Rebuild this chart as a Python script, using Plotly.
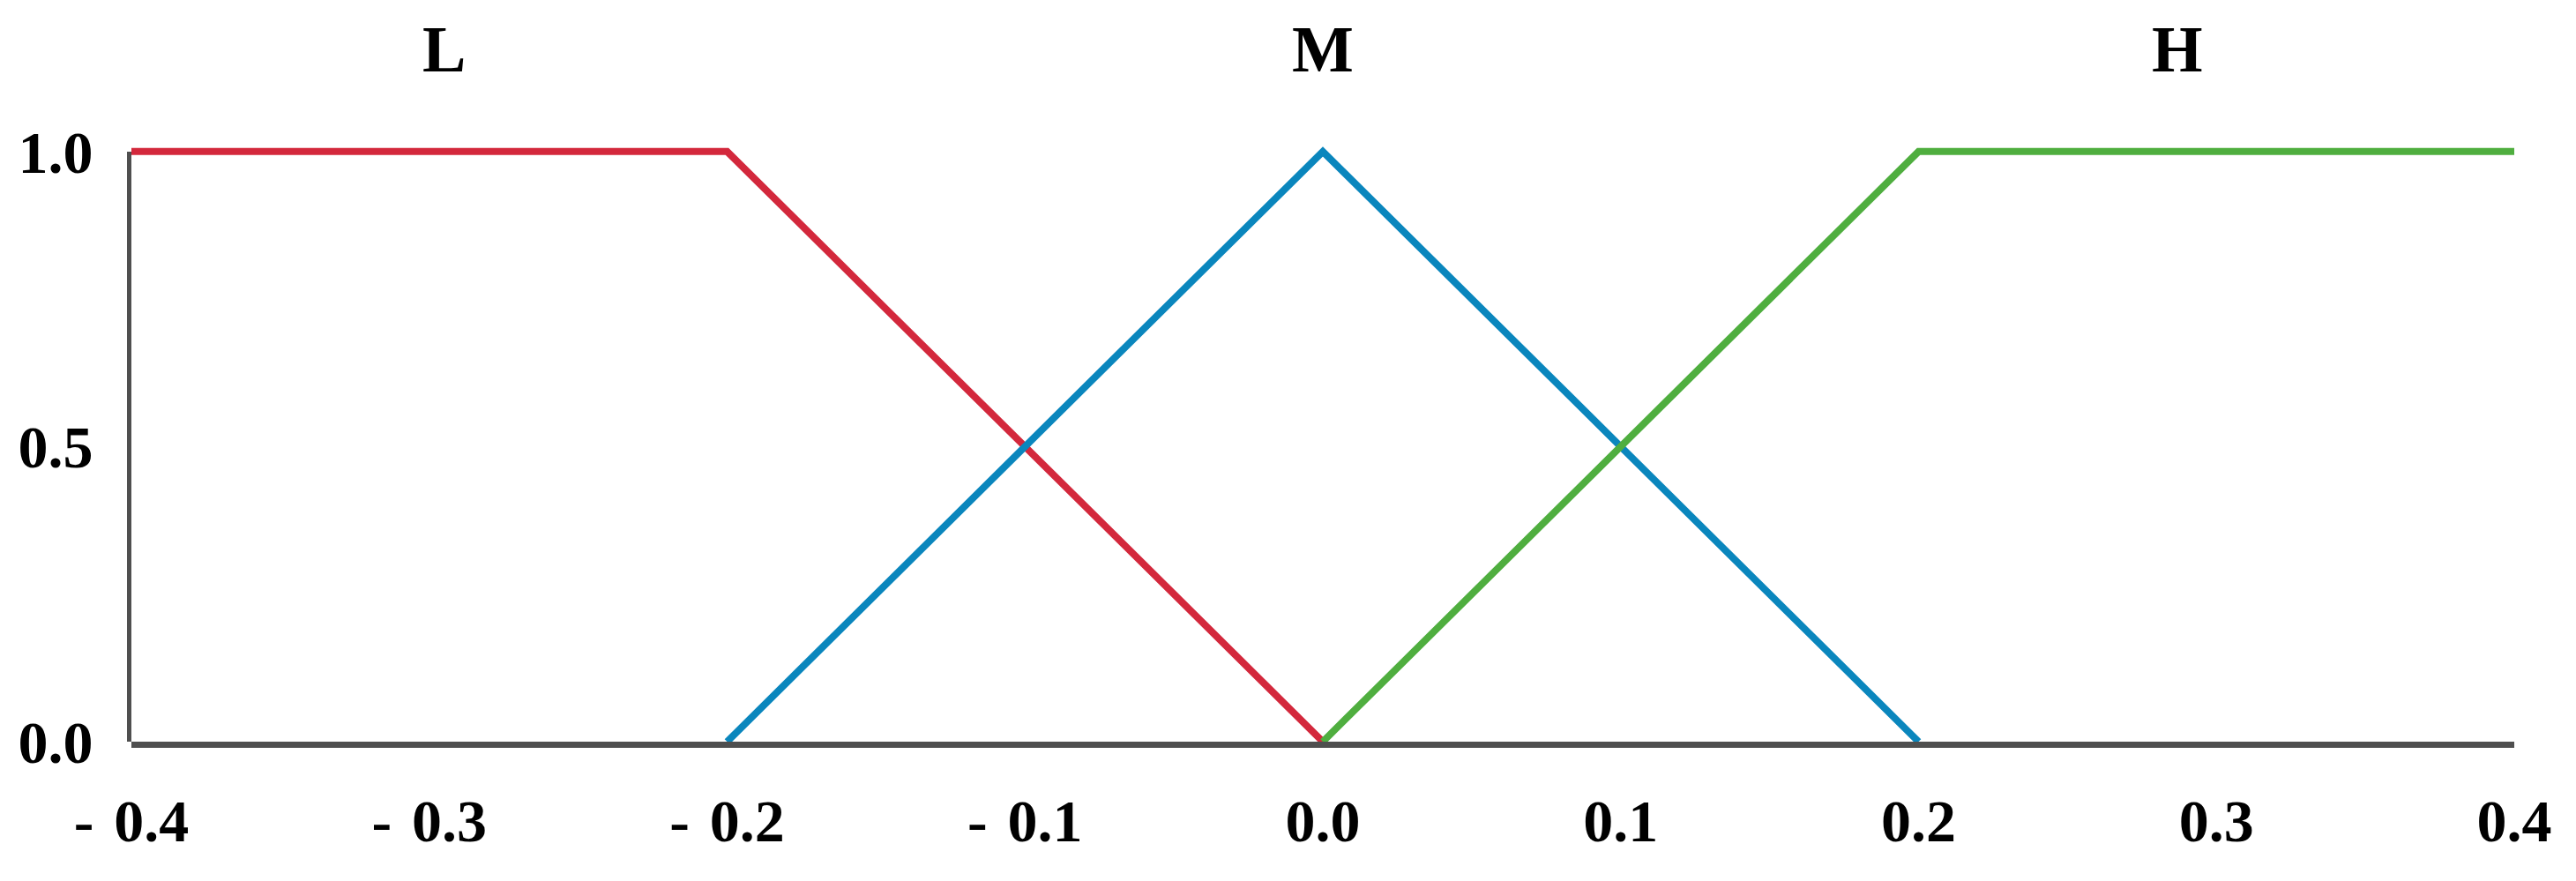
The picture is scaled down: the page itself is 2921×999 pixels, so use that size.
import plotly.graph_objects as go

# Membership functions (x breakpoints, membership values)
low_x = [-0.4, -0.2, 0.0]
low_y = [1.0, 1.0, 0.0]
mid_x = [-0.2, 0.0, 0.2]
mid_y = [0.0, 1.0, 0.0]
high_x = [0.0, 0.2, 0.4]
high_y = [0.0, 1.0, 1.0]

set_labels = ["L", "M", "H"]
set_label_x = [-0.295, 0.0, 0.287]
set_label_y = [1.173, 1.173, 1.173]

x_tickvals = [-0.4, -0.3, -0.2, -0.1, 0.0, 0.1, 0.2, 0.3, 0.4]
x_ticktext = ["- \u200a0.4", "- \u200a0.3", "- \u200a0.2", "- \u200a0.1",
              "0.0", "0.1", "0.2", "0.3", "0.4"]
y_tickvals = [0.0, 0.5, 1.0]
y_ticktext = ["0.0", "0.5", "1.0"]

Y_TOP = 1.2  # headroom above membership 1.0 for the set labels

FONT = "Liberation Serif"
RED = "#d3283c"
BLUE = "#0a86bd"
GREEN = "#4fae3f"
AXIS = "#4f4f4f"

fig = go.Figure()
for xs, ys, col in [(low_x, low_y, RED), (mid_x, mid_y, BLUE), (high_x, high_y, GREEN)]:
    fig.add_trace(go.Scatter(x=xs, y=ys, mode="lines",
                             line=dict(color=col, width=8),
                             showlegend=False, hoverinfo="skip"))

# invisible trace carrying the visible membership axis (0..1 only)
fig.add_trace(go.Scatter(x=[x_tickvals[0]], y=[y_tickvals[0]], yaxis="y2",
                         mode="markers", marker=dict(opacity=0),
                         showlegend=False, hoverinfo="skip"))

for lab, lx, ly in zip(set_labels, set_label_x, set_label_y):
    fig.add_annotation(x=lx, y=ly, xref="x", yref="y", text=f"<b>{lab}</b>",
                       showarrow=False, xanchor="center", yanchor="middle",
                       font=dict(family=FONT, size=74, color="black"))

fig.update_layout(
    width=2921, height=999,
    paper_bgcolor="white", plot_bgcolor="rgba(0,0,0,0)",
    margin=dict(l=141, r=78, t=30, b=166, autoexpand=False),
    font=dict(family=FONT, color="black"),
    yaxis=dict(range=[0, Y_TOP], domain=[0, 1], showgrid=False, zeroline=False,
               showline=False, showticklabels=False, ticks="", automargin=False),
    yaxis2=dict(range=[0, 1.0], domain=[0, 1.0 / Y_TOP], anchor="x",
                tickvals=y_tickvals, ticktext=y_ticktext,
                showgrid=False, zeroline=False, showline=True,
                linecolor=AXIS, linewidth=5, ticks="", automargin=False,
                tickfont=dict(family=FONT, size=68, color="black", weight="bold"),
                ticklabelstandoff=25),
)
fig.update_xaxes(range=[-0.4, 0.4], tickvals=x_tickvals, ticktext=x_ticktext,
                 showgrid=False, zeroline=False, showline=True,
                 linecolor=AXIS, linewidth=7, ticks="", automargin=False,
                 tickfont=dict(family=FONT, size=68, color="black", weight="bold"),
                 ticklabelstandoff=24)

fig.write_html("out.html")
